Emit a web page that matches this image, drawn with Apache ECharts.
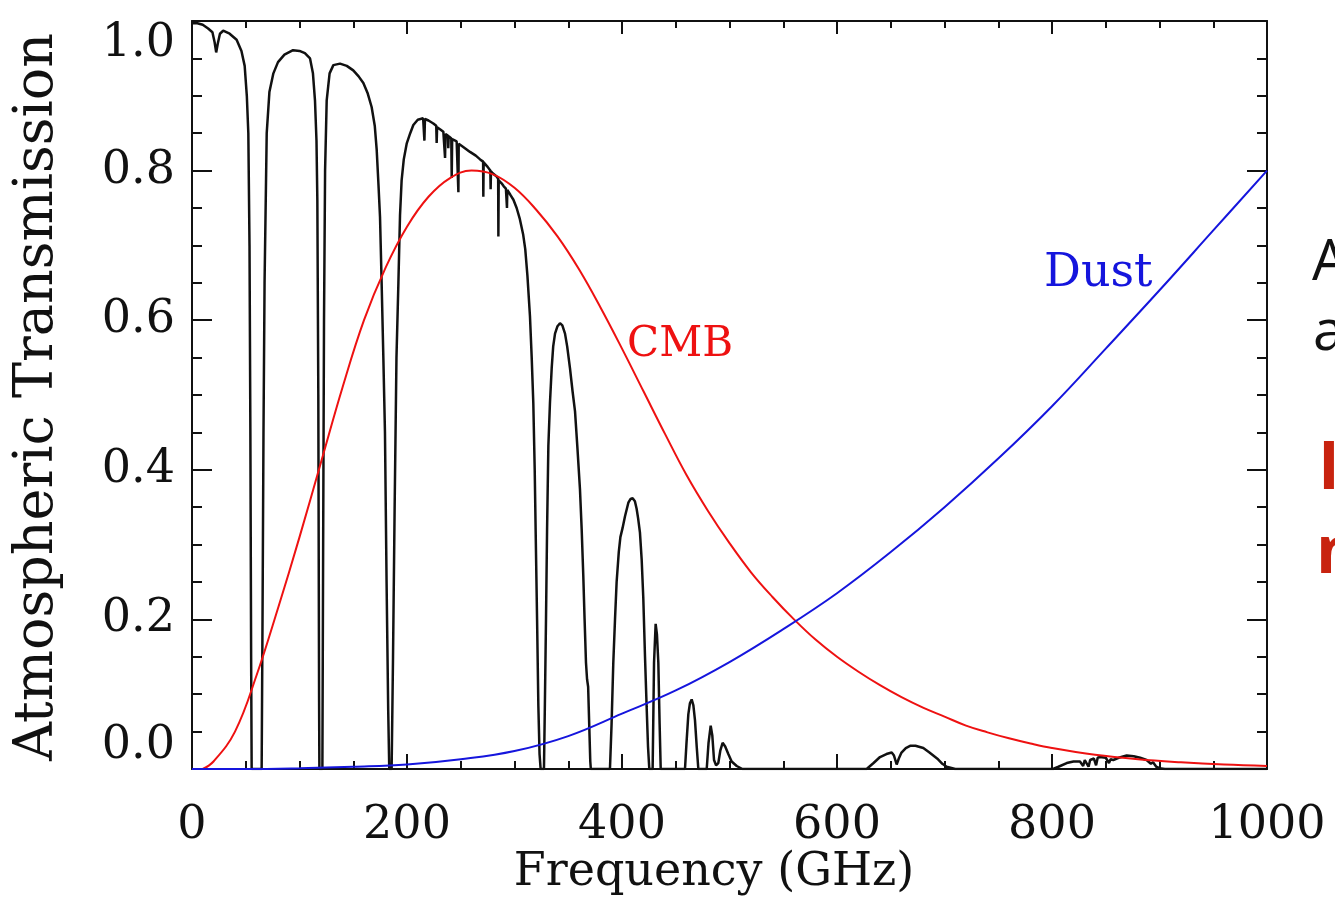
<!DOCTYPE html>
<html>
<head>
<meta charset="utf-8">
<script src="https://cdn.jsdelivr.net/npm/echarts@6/dist/echarts.min.js"></script>
<style>
  html, body { margin: 0; padding: 0; background: #fff; }
  #chart { width: 1335px; height: 913px; }
</style>
</head>
<body>
<div id="chart"></div>
<script>
// atmospheric transmission (black)
var atmFreq = [0, 5, 10, 15, 19, 21, 22.5, 24, 26, 29, 35, 41.5, 46, 49, 51, 52.4, 53.5, 54.3, 55, 55.5,
    64.8, 65.6, 66.5, 67.5, 69.5, 72, 75.7, 80, 86, 94, 100, 105, 109.8, 112.5, 114.4, 115.8, 116.6, 117.5, 118.2, 118.5,
    121.3, 122, 122.8, 123.8, 125.3, 128, 131.5, 137.7, 144, 150, 155, 159.4, 163.5, 167.1, 170, 171.8, 173.5, 174.9, 176.4, 178, 179.5, 181, 182.5, 183.5,
    185.7, 187, 188.5, 190.2, 192, 193.5, 195, 197, 199.7, 203, 205.9, 210, 215, 215.8, 216.2, 216.7, 220, 224.5, 227.2, 227.6, 228,
    231, 233.8, 235, 235.4, 235.8, 238, 238.4, 238.8, 241.2, 241.6, 242, 246.2, 247.6, 247.8, 248.1, 252, 258.6, 264, 268,
    270.8, 271, 271.3, 275, 277.5, 277.8, 278.1, 280, 283.4, 284.8, 285, 285.3, 288, 290, 292, 293, 293.3, 296, 299, 302, 305, 308,
    310, 312, 314.4, 316, 317.5, 318.8, 319.7, 321, 322.2, 323.3, 324.3,
    327.4, 328.2, 329.3, 330.3, 331.5, 333, 334.6, 336, 337.7, 340, 342.3, 344.5, 347, 349, 351.6, 354, 356.3, 358.5, 360.9, 362.5, 364, 365.2, 366.5, 367.5, 368.5, 369.5, 370.5, 371,
    388.8, 390.3, 391.9, 393.5, 395, 397, 398.5, 400.5, 402.8, 405.9, 408, 409.9, 412, 413.6, 415, 416.7, 418.3, 419.8, 421.4, 422.9, 424.2, 425.4,
    428.5, 429.8, 431.3, 432.5, 433.8, 435, 436,
    458.6, 460, 461.7, 463.2, 464.8, 466.4, 467.9, 469.5, 471,
    478.8, 480.5, 482.5, 484, 485.6, 487.5, 489.6, 491.5, 493.6, 496, 498.9, 502, 506.7, 512,
    627.6, 634, 640, 646, 650.9, 653, 655.5, 657.5, 660, 664, 668, 673, 680.3, 686, 694, 698, 702, 710,
    801, 806, 813.7, 820, 826, 829, 830.5, 832, 834, 835.5, 839, 841, 842.5, 844.7, 850, 853, 854.5, 857, 862, 869.5, 876, 882, 888, 892, 894, 897, 900, 905, 1000];
var atmTrans = [0.997, 0.997, 0.995, 0.99, 0.985, 0.972, 0.958, 0.97, 0.983, 0.987, 0.983, 0.975, 0.96, 0.94, 0.9, 0.85, 0.7, 0.45, 0.15, 0,
    0, 0.2, 0.45, 0.65, 0.85, 0.905, 0.93, 0.945, 0.955, 0.961, 0.96, 0.957, 0.95, 0.93, 0.894, 0.84, 0.76, 0.5, 0.1, 0,
    0, 0.3, 0.6, 0.8, 0.894, 0.93, 0.941, 0.943, 0.94, 0.934, 0.926, 0.917, 0.903, 0.885, 0.86, 0.828, 0.78, 0.738, 0.65, 0.55, 0.45, 0.25, 0.08, 0,
    0, 0.15, 0.35, 0.55, 0.65, 0.74, 0.787, 0.815, 0.836, 0.85, 0.861, 0.868, 0.87, 0.87, 0.84, 0.869, 0.867, 0.863, 0.86, 0.837, 0.858,
    0.855, 0.852, 0.85, 0.817, 0.849, 0.847, 0.83, 0.846, 0.843, 0.79, 0.842, 0.839, 0.837, 0.771, 0.836, 0.832, 0.825, 0.82, 0.815,
    0.812, 0.765, 0.811, 0.805, 0.8, 0.775, 0.799, 0.796, 0.792, 0.789, 0.712, 0.787, 0.783, 0.779, 0.776, 0.75, 0.774, 0.768, 0.761, 0.75, 0.735, 0.715,
    0.695, 0.66, 0.605, 0.55, 0.489, 0.4, 0.316, 0.2, 0.084, 0.02, 0,
    0, 0.08, 0.2, 0.32, 0.432, 0.49, 0.536, 0.565, 0.582, 0.592, 0.596, 0.593, 0.582, 0.565, 0.536, 0.505, 0.478, 0.43, 0.374, 0.32, 0.258, 0.2, 0.142, 0.12, 0.11, 0.06, 0.01, 0,
    0, 0.06, 0.142, 0.2, 0.25, 0.29, 0.31, 0.322, 0.338, 0.356, 0.361, 0.362, 0.358, 0.348, 0.335, 0.316, 0.28, 0.229, 0.15, 0.084, 0.03, 0,
    0, 0.142, 0.194, 0.18, 0.142, 0.06, 0,
    0, 0.035, 0.073, 0.088, 0.093, 0.085, 0.065, 0.03, 0,
    0, 0.035, 0.058, 0.045, 0.012, 0.005, 0.008, 0.025, 0.035, 0.03, 0.02, 0.01, 0.004, 0,
    0, 0.008, 0.016, 0.02, 0.022, 0.018, 0.006, 0.014, 0.022, 0.028, 0.031, 0.031, 0.028, 0.022, 0.013, 0.007, 0.003, 0,
    0, 0.003, 0.008, 0.01, 0.01, 0.004, 0.012, 0.013, 0.003, 0.012, 0.014, 0.005, 0.015, 0.016, 0.015, 0.008, 0.013, 0.012, 0.015, 0.018, 0.017, 0.015, 0.012, 0.007, 0.009, 0.003, 0.001, 0, 0];

// CMB spectrum (red)
var cmbFreq = [10, 20, 40, 60, 80, 100, 120, 140, 160, 180, 200, 220, 240, 260, 280, 300, 320, 340, 360, 380, 400,
    420, 440, 460, 480, 500, 520, 540, 560, 580, 600, 620, 640, 660, 680, 700, 720, 740, 760, 780, 800, 840, 880, 920, 960, 1000];
var cmbVal = [0.0, 0.01, 0.05, 0.125, 0.215, 0.31, 0.41, 0.51, 0.6, 0.67, 0.725, 0.765, 0.79, 0.8, 0.795, 0.777, 0.748, 0.712, 0.668, 0.617, 0.562,
    0.505, 0.448, 0.393, 0.345, 0.302, 0.263, 0.23, 0.2, 0.173, 0.15, 0.13, 0.112, 0.096, 0.082, 0.07, 0.058, 0.049, 0.041, 0.034, 0.028, 0.019, 0.013, 0.009, 0.006, 0.004];

// Dust spectrum (blue)
var dustFreq = [0, 50, 100, 150, 200, 250, 300, 350, 400, 450, 500, 550, 600, 650, 700, 750, 800, 850, 900, 950, 1000];
var dustVal = [0, 0, 0.001, 0.003, 0.006, 0.013, 0.024, 0.044, 0.074, 0.105, 0.143, 0.187, 0.235, 0.29, 0.35, 0.415, 0.485, 0.562, 0.64, 0.72, 0.8];

var xTicks = [0, 200, 400, 600, 800, 1000];
var yTicks = [0.0, 0.2, 0.4, 0.6, 0.8, 1.0];

function pairs(xs, ys) {
    return xs.map(function (x, i) { return [x, ys[i]]; });
}

var serif = 'DejaVu Serif';
var myChart = echarts.init(document.getElementById('chart'), null, { renderer: 'canvas' });

function xAx(pos, showLabel, major, minor) {
    return {
        type: 'value', position: pos, min: xTicks[0], max: xTicks[xTicks.length - 1], interval: 200,
        axisLine: { show: true, onZero: false, lineStyle: { color: '#111', width: 2 } },
        axisTick: { show: true, inside: true, length: major, lineStyle: { color: '#111', width: 2 } },
        minorTick: { show: true, splitNumber: 4, length: minor, lineStyle: { color: '#111', width: 2 } },
        splitLine: { show: false },
        axisLabel: {
            show: showLabel, fontFamily: serif, fontSize: 46, color: '#111', margin: 34,
            formatter: function (v) { return String(v); }
        }
    };
}
function yAx(pos, showLabel) {
    return {
        type: 'value', position: pos, min: yTicks[0], max: yTicks[yTicks.length - 1], interval: 0.2,
        axisLine: { show: true, onZero: false, lineStyle: { color: '#111', width: 2 } },
        axisTick: { show: true, inside: true, length: 20, lineStyle: { color: '#111', width: 2 } },
        minorTick: { show: true, splitNumber: 4, length: 10, lineStyle: { color: '#111', width: 2 } },
        splitLine: { show: false },
        axisLabel: {
            show: showLabel, fontFamily: serif, fontSize: 46, color: '#111', margin: 17,
            verticalAlignMinLabel: 'bottom', verticalAlignMaxLabel: 'top',
            formatter: function (v) { return v.toFixed(1); }
        }
    };
}

var option = {
    backgroundColor: '#ffffff',
    animation: false,
    grid: { left: 192, right: 68, top: 21, bottom: 144 },
    xAxis: [xAx('bottom', true, 15, 8), xAx('top', false, 13, 7)],
    yAxis: [yAx('left', true), yAx('right', false)],
    series: [{
        name: 'Atmosphere',
        type: 'line',
        data: pairs(atmFreq, atmTrans),
        showSymbol: false,
        lineStyle: { color: '#111', width: 2.5 },
        z: 3
    }, {
        name: 'CMB',
        type: 'line',
        data: pairs(cmbFreq, cmbVal),
        showSymbol: false,
        smooth: 0.4,
        lineStyle: { color: '#ee1111', width: 2 },
        z: 4
    }, {
        name: 'Dust',
        type: 'line',
        data: pairs(dustFreq, dustVal),
        showSymbol: false,
        smooth: 0.4,
        lineStyle: { color: '#1515dd', width: 2 },
        z: 4
    }],
    graphic: [
        { type: 'text', x: 38, y: 397, rotation: Math.PI / 2,
          style: { text: 'Atmospheric Transmission', fontFamily: serif, fontSize: 54, fill: '#111', align: 'center', verticalAlign: 'middle' } },
        { type: 'text', x: 714, y: 873,
          style: { text: 'Frequency (GHz)', fontFamily: serif, fontSize: 46, fill: '#111', align: 'center', verticalAlign: 'middle' } },
        { type: 'text', x: 627, y: 345,
          style: { text: 'CMB', fontFamily: serif, fontSize: 42, fill: '#ee1111', align: 'left', verticalAlign: 'middle' } },
        { type: 'text', x: 1044, y: 274,
          style: { text: 'Dust', fontFamily: serif, fontSize: 46, fill: '#1515dd', align: 'left', verticalAlign: 'middle' } },
        { type: 'text', x: 1312, y: 264,
          style: { text: 'A', fontFamily: 'Open Sans', fontSize: 56, fill: '#111', align: 'left', verticalAlign: 'middle' } },
        { type: 'text', x: 1313, y: 334,
          style: { text: 'a', fontFamily: 'Open Sans', fontSize: 56, fill: '#111', align: 'left', verticalAlign: 'middle' } },
        { type: 'text', x: 1318, y: 470,
          style: { text: 'I', fontFamily: 'Open Sans', fontWeight: 'bold', fontSize: 66, fill: '#c8230f', align: 'left', verticalAlign: 'middle' } },
        { type: 'text', x: 1316, y: 554,
          style: { text: 'n', fontFamily: 'Open Sans', fontWeight: 'bold', fontSize: 66, fill: '#c8230f', align: 'left', verticalAlign: 'middle' } }
    ]
};

myChart.setOption(option);
</script>
</body>
</html>
